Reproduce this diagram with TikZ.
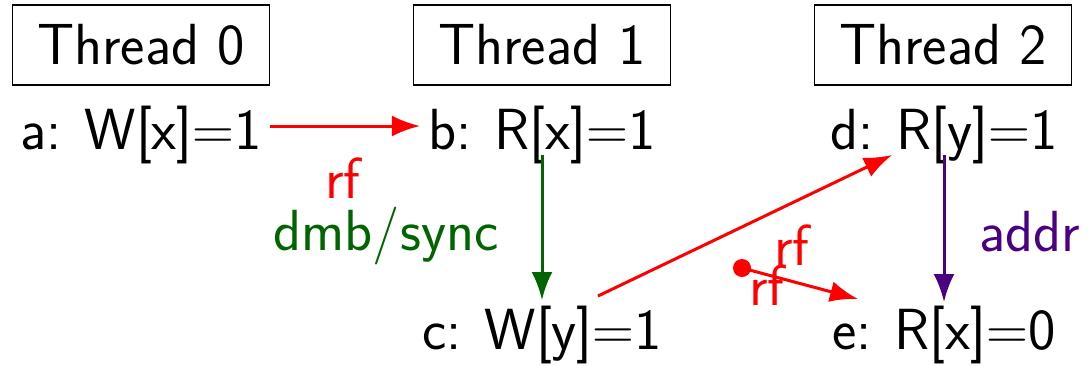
\RequirePackage{fix-cm}
\documentclass[tikz,border=0pt]{standalone}
\usetikzlibrary{arrows.meta}
\definecolor{dgreen}{RGB}{0,100,0}
\definecolor{indig}{RGB}{75,0,130}
\newcommand{\csp}{\hspace{0.4em}}
\begin{document}
\begin{tikzpicture}[x=0.5pt,y=-0.5pt,
  every node/.style={font=\sffamily\fontsize{29}{34}\selectfont, inner sep=0pt},
  thr/.style={draw, line width=0.8pt, minimum width=128.5pt, minimum height=40pt},
  ev/.style={},
  arr/.style={line width=1.5pt, -{Latex[length=14pt,width=10.5pt]}},
  lbl/.style={}]
\useasboundingbox (0,0) rectangle (1088,365);
\node[thr] (t0) at (141,45) {Thread 0};
\node[thr] (t1) at (542,45) {Thread 1};
\node[thr] (t2) at (943,45) {Thread 2};
\node[ev] (a) at (141,135) {a:\csp W[x]$=$1};
\node[ev] (b) at (542,135) {b:\csp R[x]$=$1};
\node[ev] (d) at (944,135) {d:\csp R[y]$=$1};
\node[ev] (c) at (542,335) {c:\csp W[y]$=$1};
\node[ev] (e) at (944,335) {e:\csp R[x]$=$0};
\draw[arr, red] ([yshift=4.5pt,xshift=4pt]a.east) -- ([yshift=4.5pt,xshift=-4pt]b.west) ;
\node[lbl, text=red] (lrf) at (343,178) {rf};
\node[lbl, text=dgreen] (ldmb) at (386,236) {dmb/sync};
\draw[arr, dgreen] (542,155) coordinate (bs) -- (542,300) coordinate (ce);
\draw[arr, red] (598,296) coordinate (cs) -- (892,155) coordinate (de);
\draw[arr, indig] (944,155) coordinate (ds) -- (944,302) coordinate (ee);
\node[lbl, text=indig] (laddr) at (1030,232) {addr};
\coordinate (dot) at (742,268);
\coordinate (ein) at (858,299);
\fill[red] (dot) circle (4.5pt);
\draw[arr, red] (dot) -- (ein);
\node[lbl, text=red] (lrf2) at (792,245) {rf};
\node[lbl, text=red] (lrf3) at (767,285) {rf};
\end{tikzpicture}
\end{document}
